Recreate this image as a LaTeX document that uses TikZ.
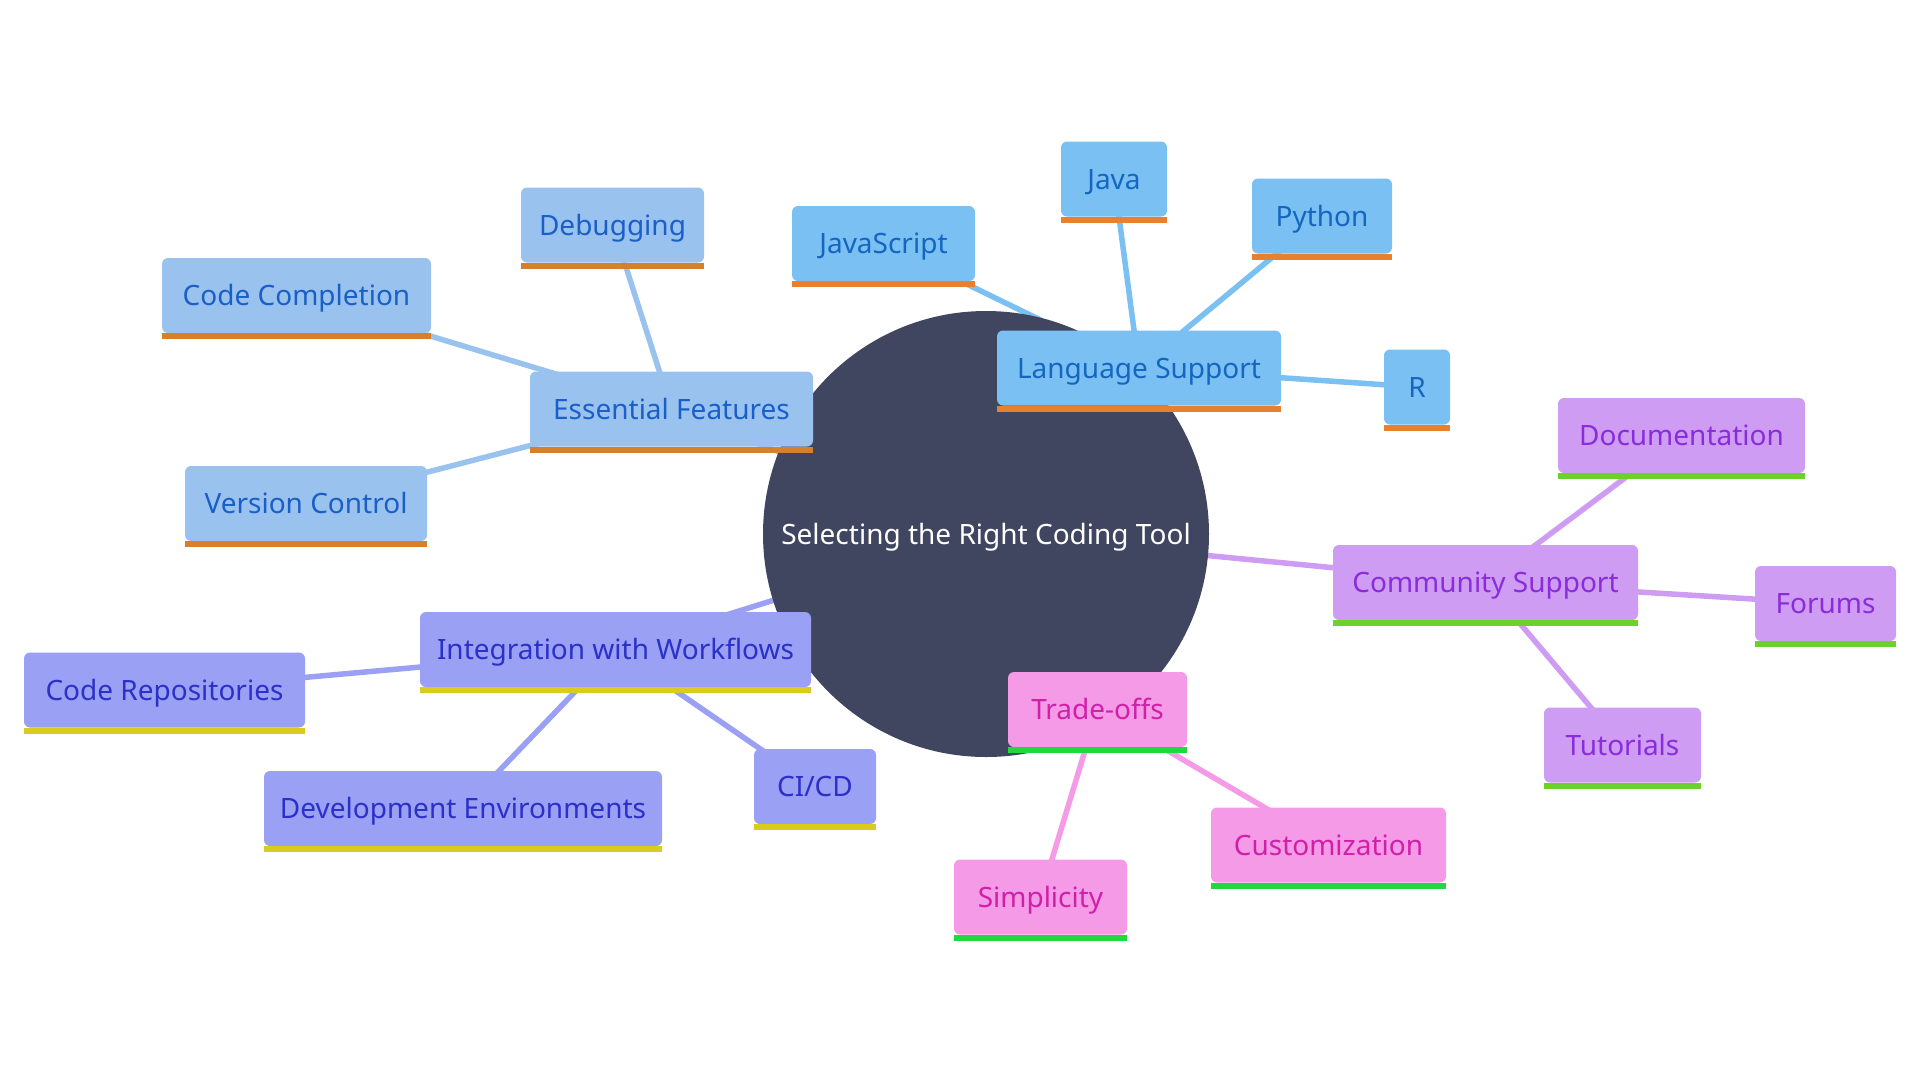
\documentclass[tikz,border=0pt]{standalone}
\usepackage{fontspec}
\setmainfont{Noto Sans}
\pgfdeclarelayer{edgelayer}
\pgfdeclarelayer{circlelayer}
\pgfsetlayers{edgelayer,circlelayer,main}
\definecolor{circ}{HTML}{404560}
\definecolor{efFill}{HTML}{9AC2EF}\definecolor{efText}{HTML}{1A5FC8}\definecolor{efBar}{HTML}{D4812A}
\definecolor{lsFill}{HTML}{7BC0F2}\definecolor{lsText}{HTML}{1466C0}\definecolor{lsBar}{HTML}{E8812F}
\definecolor{csFill}{HTML}{CE9CF2}\definecolor{csText}{HTML}{8A2BDC}\definecolor{csBar}{HTML}{6CD12C}
\definecolor{toFill}{HTML}{F49AE6}\definecolor{toText}{HTML}{D01FA8}\definecolor{toBar}{HTML}{20D840}
\definecolor{iwFill}{HTML}{9AA0F3}\definecolor{iwText}{HTML}{2A30C8}\definecolor{iwBar}{HTML}{D9CC1E}
\tikzset{
  box/.style={rectangle, rounded corners=6pt, inner sep=0pt, minimum height=75pt,
    font=\fontsize{28}{33}\selectfont, text height=20pt, text depth=0pt, anchor=center},
  efbox/.style={box, fill=efFill, text=efText},
  lsbox/.style={box, fill=lsFill, text=lsText},
  csbox/.style={box, fill=csFill, text=csText},
  tobox/.style={box, fill=toFill, text=toText},
  iwbox/.style={box, fill=iwFill, text=iwText},
  link/.style={line width=5.5pt},
}
\begin{document}
\begin{tikzpicture}[x=1pt,y=-1pt]
\useasboundingbox (0,0) rectangle (1920,1080);
\begin{pgfonlayer}{edgelayer}
\fill[white] (0,0) rectangle (1920,1080);
\end{pgfonlayer}
\begin{pgfonlayer}{circlelayer}
\node[circle, fill=circ, minimum size=446pt, inner sep=0pt, text=white,
  font=\fontsize{28}{33}\selectfont, text height=20pt, text depth=0pt] (c) at (986,534) {Selecting the Right Coding Tool};
\end{pgfonlayer}
% Essential Features group
\node[efbox, minimum width=283pt] (ef) at (671.5,409) {Essential Features};
\node[efbox, minimum width=269pt] (cc) at (296.5,295.5) {Code Completion};
\node[efbox, minimum width=242pt] (vc) at (306,503.5) {Version Control};
\node[efbox, minimum width=183pt] (db) at (612.5,225) {Debugging};
% Language Support group
\node[lsbox, minimum width=284pt] (ls) at (1139,368) {Language Support};
\node[lsbox, minimum width=183pt] (js) at (883.5,243.5) {JavaScript};
\node[lsbox, minimum width=106pt] (ja) at (1114,179) {Java};
\node[lsbox, minimum width=140pt] (py) at (1322,216) {Python};
\node[lsbox, minimum width=66pt] (r) at (1417,387) {R};
% Community Support group
\node[csbox, minimum width=305pt] (cs) at (1485.5,582.5) {Community Support};
\node[csbox, minimum width=247pt] (doc) at (1681.5,435.5) {Documentation};
\node[csbox, minimum width=141pt] (fo) at (1825.5,603.5) {Forums};
\node[csbox, minimum width=157pt] (tu) at (1622.5,745) {Tutorials};
% Trade-offs group
\node[tobox, minimum width=179pt] (to) at (1097.5,709.5) {Trade-offs};
\node[tobox, minimum width=235pt] (cu) at (1328.5,845) {Customization};
\node[tobox, minimum width=173pt] (si) at (1040.5,897) {Simplicity};
% Integration group
\node[iwbox, minimum width=391pt] (iw) at (615.5,649.5) {Integration with Workflows};
\node[iwbox, minimum width=281pt] (cr) at (164.5,690) {Code Repositories};
\node[iwbox, minimum width=398pt] (de) at (463,808.5) {Development Environments};
\node[iwbox, minimum width=122pt] (ci) at (815,786.5) {CI/CD};
% bars
\foreach \n/\b in {ef/efBar,cc/efBar,vc/efBar,db/efBar,
                   ls/lsBar,js/lsBar,ja/lsBar,py/lsBar,r/lsBar,
                   cs/csBar,doc/csBar,fo/csBar,tu/csBar,
                   to/toBar,cu/toBar,si/toBar,
                   iw/iwBar,cr/iwBar,de/iwBar,ci/iwBar}
  \fill[\b] (\n.south west) rectangle ([yshift=-6pt]\n.south east);
% edges
\begin{pgfonlayer}{edgelayer}
\draw[link, efFill] (c.center) -- (ef.center);
\draw[link, efFill] (ef.center) -- (cc.center);
\draw[link, efFill] (ef.center) -- (vc.center);
\draw[link, efFill] (ef.center) -- (db.center);
\draw[link, lsFill] (c.center) -- (ls.center);
\draw[link, lsFill] (ls.center) -- (js.center);
\draw[link, lsFill] (ls.center) -- (ja.center);
\draw[link, lsFill] (ls.center) -- (py.center);
\draw[link, lsFill] (ls.center) -- (r.center);
\draw[link, csFill] (c.center) -- (cs.center);
\draw[link, csFill] (cs.center) -- (doc.center);
\draw[link, csFill] (cs.center) -- (fo.center);
\draw[link, csFill] (cs.center) -- (tu.center);
\draw[link, toFill] (c.center) -- (to.center);
\draw[link, toFill] (to.center) -- (cu.center);
\draw[link, toFill] (to.center) -- (si.center);
\draw[link, iwFill] (c.center) -- (iw.center);
\draw[link, iwFill] (iw.center) -- (cr.center);
\draw[link, iwFill] (iw.center) -- (de.center);
\draw[link, iwFill] (iw.center) -- (ci.center);
\end{pgfonlayer}
\end{tikzpicture}
\end{document}
